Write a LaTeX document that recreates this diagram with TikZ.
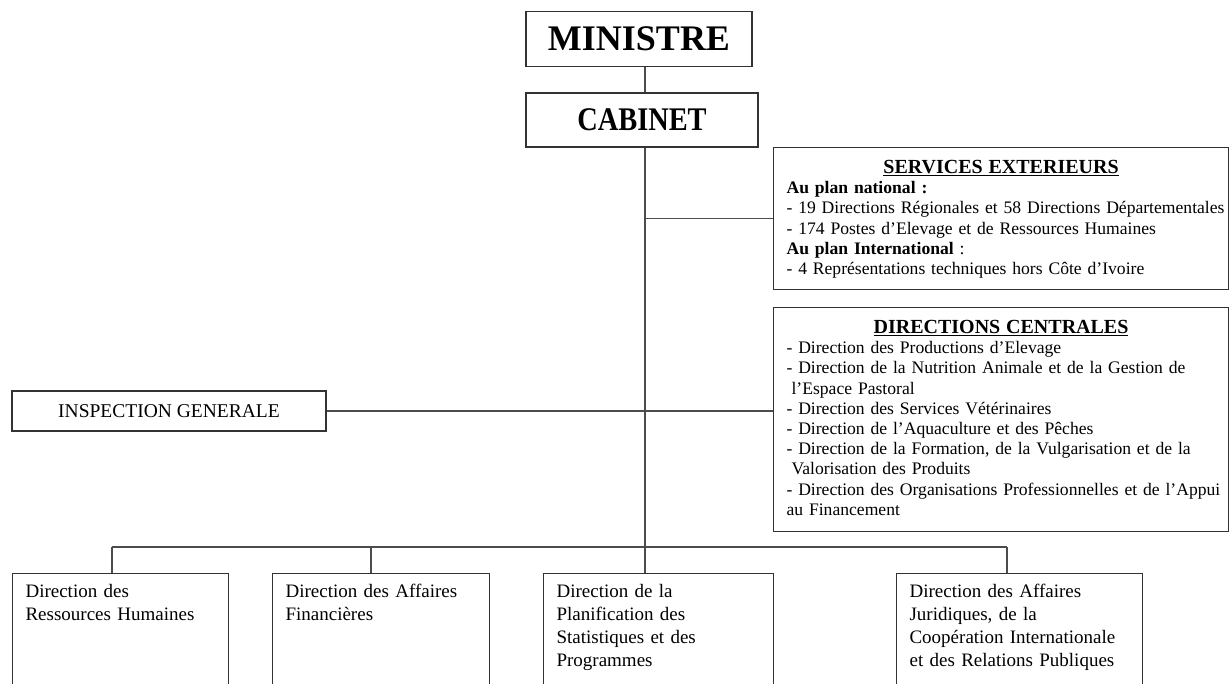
\documentclass[tikz,border=0pt]{standalone}
\usepackage{fontspec}
\setmainfont{Liberation Serif}
\usepackage{graphicx}
\usepackage{tikz}

\tikzset{
  box/.style={draw=black!80, line width=1.1pt, inner sep=0pt},
  link/.style={draw=black!70, line width=1.1pt},
  panel/.style={box, anchor=north west, align=left, inner xsep=0pt, inner ysep=0pt,
    text width=455pt, text height=26pt, font=\fontsize{17.6}{20.2}\selectfont},
  unit/.style={box, anchor=north west, align=left, inner xsep=13pt, inner ysep=0pt,
    text height=24pt, text depth=110pt, font=\fontsize{19}{23}\selectfont},
}
\newcommand{\paneltitle}[1]{\makebox[\dimexpr\linewidth-26pt]{\fontsize{20}{20}\selectfont\bfseries\underline{#1}}}

\begin{document}
\begin{tikzpicture}[x=1pt,y=-1pt]
\useasboundingbox (0,0) rectangle (1230,684);
\clip (0,0) rectangle (1230,684);

\coordinate (spine) at (645,0);
\coordinate (b1) at (112,547);
\coordinate (b2) at (371,547);
\coordinate (b4) at (1007,547);

\node[box, minimum width=226pt, minimum height=55pt, font=\fontsize{36}{40}\selectfont\bfseries] (ministre) at (639,39) {MINISTRE};
\node[box, minimum width=232pt, minimum height=54pt, font=\fontsize{33}{36}\selectfont\bfseries] (cabinet) at (642,120) {\scalebox{0.86}[1]{CABINET}};

\node[panel, text depth=116pt] (services) at (773,147) {\leftskip=13pt
\paneltitle{SERVICES EXTERIEURS}\\
\textbf{Au plan national :}\\
- 19 Directions Régionales et 58 Directions Départementales\\
- 174 Postes d’Elevage et de Ressources Humaines\\
\textbf{Au plan International} :\\
- 4 Représentations techniques hors Côte d’Ivoire\par};

\node[panel, text depth=198pt] (centrales) at (773,307) {\leftskip=13pt
\paneltitle{DIRECTIONS CENTRALES}\\
- Direction des Productions d’Elevage\\
- Direction de la Nutrition Animale et de la Gestion de\\
\hspace*{5pt}l’Espace Pastoral\\
- Direction des Services Vétérinaires\\
- Direction de l’Aquaculture et des Pêches\\
- Direction de la Formation, de la Vulgarisation et de la\\
\hspace*{5pt}Valorisation des Produits\\
- Direction des Organisations Professionnelles et de l’Appui\\
au Financement\par};

\node[box, minimum width=314pt, minimum height=40pt, font=\fontsize{19.5}{22}\selectfont] (inspection) at (169,411) {INSPECTION GENERALE};

\node[unit, text width=190pt] (drh) at (12,573) {Direction des\\Ressources Humaines};
\node[unit, text width=191pt] (daf) at (272,573) {Direction des Affaires\\Financières};
\node[unit, text width=204pt] (dpsp) at (543,573) {Direction de la\\Planification des\\Statistiques et des\\Programmes};
\node[unit, text width=220pt] (daj) at (896,573) {Direction des Affaires\\Juridiques, de la\\Coopération Internationale\\et des Relations Publiques};

\draw[link] (ministre.south -| spine) -- (cabinet.north -| spine);
\draw[link] (cabinet.south -| spine) -- (spine |- dpsp.north);
\draw[link] (spine |- services.west) -- (services.west);
\draw[link] (inspection.east) -- (inspection.east -| centrales.west);

\draw[link] (b1) -- (b4);
\draw[link] (b1) -- (b1 |- drh.north);
\draw[link] (b2) -- (b2 |- daf.north);
\draw[link] (b4) -- (b4 |- daj.north);

\end{tikzpicture}
\end{document}
